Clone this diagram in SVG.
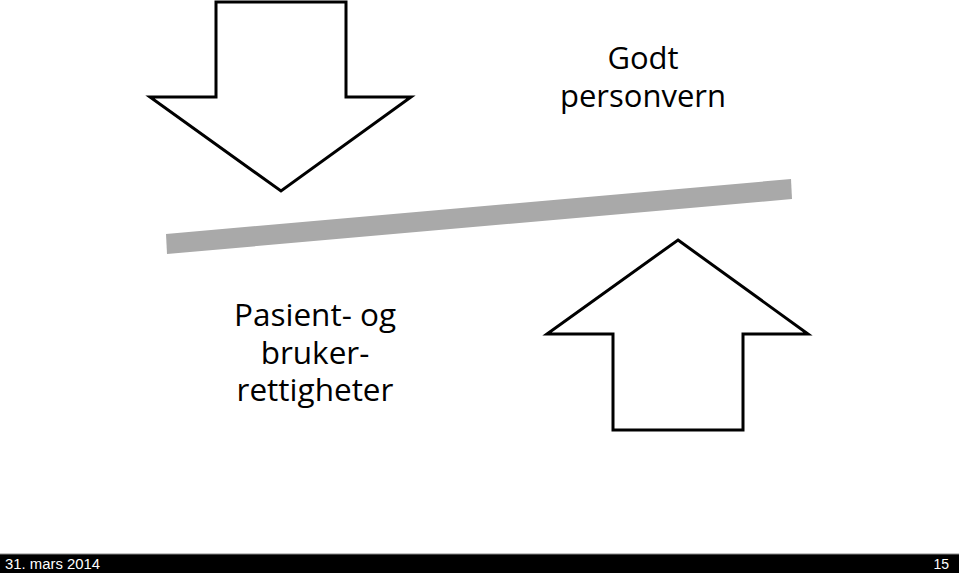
<svg xmlns="http://www.w3.org/2000/svg" width="959" height="573" viewBox="0 0 959 573">
<style>
.arrow{fill:#fff;stroke:#000;stroke-width:3;stroke-linejoin:miter}
.lbl{font-family:"Open Sans","Liberation Sans",sans-serif;font-size:31px;fill:#000;text-anchor:middle}
.big{font-size:31.5px}
.foot{font-family:"Liberation Sans",sans-serif;font-size:14px;fill:#fff}
</style>
<rect width="959" height="573" fill="#fff"/>
<g id="down-arrow">
<polygon class="arrow" points="216,2 346,2 346,97 411,97 281,191 150,97 216,97"/>
</g>
<g id="up-arrow">
<polygon class="arrow" points="678,240 808,334 743,334 743,430 613,430 613,334 547,334"/>
</g>
<g id="balance-bar">
<polygon points="166,234 791,179 792,199 167,254" fill="#a9a9a9"/>
</g>
<g id="label-godt">
<text class="lbl" x="643" y="69">Godt</text>
<text class="lbl" x="643" y="107">personvern</text>
</g>
<g id="label-pasient">
<text class="lbl big" x="315" y="326">Pasient- og</text>
<text class="lbl big" x="315" y="364">bruker-</text>
<text class="lbl big" x="315" y="401">rettigheter</text>
</g>
<g id="footer">
<rect x="0" y="554" width="959" height="19" fill="#000"/>
<line x1="0" y1="554" x2="959" y2="554" stroke="#888" stroke-width="1"/>
<text class="foot" x="5" y="569" textLength="95" lengthAdjust="spacingAndGlyphs">31. mars 2014</text>
<text class="foot" x="949" y="569" text-anchor="end">15</text>
</g>
</svg>
